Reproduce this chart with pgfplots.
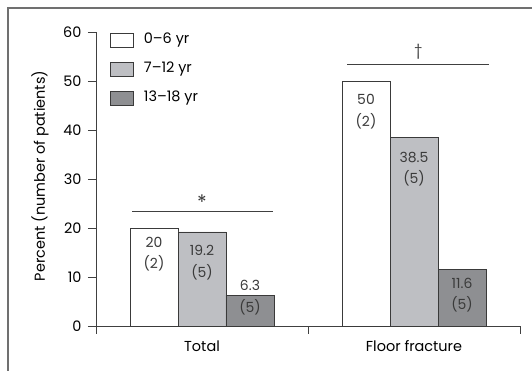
\documentclass[border=0pt]{standalone}
\usepackage{fontspec}
\setmainfont{Poppins}
\usepackage{pgfplots}
\pgfplotsset{compat=1.18}
\definecolor{lightbar}{HTML}{BEBFC3}
\definecolor{darkbar}{HTML}{8E8F92}
\definecolor{edge}{HTML}{3A3A3A}
\definecolor{axcol}{HTML}{404040}
\definecolor{framecol}{HTML}{707070}
\pgfplotsset{
  boxlegend/.style={legend image code/.code={\draw[##1,draw=edge,line width=0.7bp] (0bp,-6.5bp) rectangle (23bp,7bp);}},
}
\begin{document}
\begin{tikzpicture}[font=\fontsize{14.5}{16}\selectfont]
\useasboundingbox (0,0) rectangle (532bp,371bp);
\begin{axis}[
  at={(96bp,45bp)}, anchor=south west,
  scale only axis, width=424bp, height=294bp,
  xmin=-0.5, xmax=1.5, ymin=0, ymax=60,
  axis x line=bottom, axis y line=left,
  axis line style={-, draw=axcol, line width=0.8bp},
  tick align=outside,
  major tick length=8bp,
  tick style={draw=axcol, line width=0.8bp},
  ytick={0,10,20,30,40,50,60},
  yticklabel style={xshift=-3bp},
  /pgf/number format/assume math mode=true,
  xtick={-0.5,0.5,1.5}, xticklabels={},
  extra x ticks={0,1},
  extra x tick labels={Total,Floor fracture},
  extra x tick style={major tick length=0bp, xticklabel style={anchor=base, yshift=-26bp}},
  ylabel={Percent (number of patients)},
  ylabel style={at={(axis description cs:-0.132,0.51)}, anchor=center},
  ybar=0pt, bar width=0.2264,
  clip=false,
  legend style={at={(axis description cs:0.033,0.997)}, anchor=north west,
    draw=none, fill=none, inner sep=0pt, row sep=15bp,
    nodes={inner sep=0pt, text height=9bp, text depth=3bp},
    /tikz/every odd column/.append style={column sep=10bp}},
  legend cell align=left,
]
\addplot[fill=white, draw=edge, line width=0.7bp, boxlegend] coordinates {(0,20) (1,50)};
\addplot[fill=lightbar, draw=edge, line width=0.7bp, boxlegend] coordinates {(0,19.2) (1,38.5)};
\addplot[fill=darkbar, draw=edge, line width=0.7bp, boxlegend] coordinates {(0,6.3) (1,11.6)};
\legend{0\textendash6 yr, 7\textendash12 yr, 13\textendash18 yr}
% value labels
\node[align=center, text=edge, font=\fontsize{14}{21.5}\selectfont] at (axis cs:-0.2264,14.7) {20\\(2)};
\node[align=center, text=edge, font=\fontsize{14}{21.5}\selectfont] at (axis cs:0,12.96) {19.2\\(5)};
\node[align=center, text=edge, font=\fontsize{14}{21.5}\selectfont] at (axis cs:0.2264,5.8) {6.3\\(5)};
\node[align=center, text=edge, font=\fontsize{14}{21.5}\selectfont] at (axis cs:0.7736,43.7) {50\\(2)};
\node[align=center, text=edge, font=\fontsize{14}{21.5}\selectfont] at (axis cs:1,32.0) {38.5\\(5)};
\node[align=center, text=edge, font=\fontsize{14}{21.5}\selectfont] at (axis cs:1.2264,6.3) {11.6\\(5)};
% significance
\draw[axcol, line width=0.8bp] (axis cs:-0.330,23.3) -- (axis cs:0.335,23.3);
\node[text=edge, font=\fontsize{20}{20}\selectfont] at (axis cs:0.0,25.2) {*};
\draw[axcol, line width=0.8bp] (axis cs:0.684,53.3) -- (axis cs:1.354,53.3);
\node[text=edge] at (axis cs:1.02,56.0) {\textdagger};
\end{axis}
\draw[framecol, line width=1.3bp] (8bp,0bp) -- (8bp,363bp) -- (532bp,363bp);
\end{tikzpicture}
\end{document}
